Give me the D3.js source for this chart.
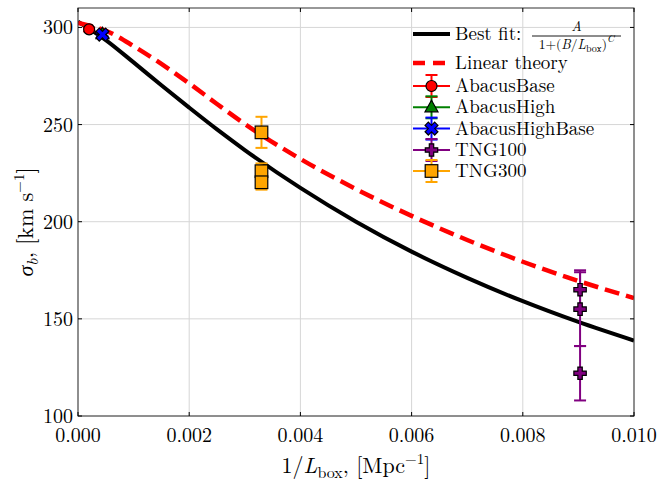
<!DOCTYPE html>
<html>
<head>
<meta charset="utf-8">
<script src="https://cdn.jsdelivr.net/npm/d3@7/dist/d3.min.js"></script>
<style>
  html, body { margin: 0; padding: 0; background: #fff; }
</style>
</head>
<body>
<svg id="chart" width="663" height="483"></svg>
<script>
// Axis ticks
const xTicks = [0, 0.002, 0.004, 0.006, 0.008, 0.010];
const yTicks = [100, 150, 200, 250, 300];

// Best fit curve sigma_b(1/L_box)
const fitX = [0, 0.0005, 0.001, 0.0015, 0.002, 0.0025, 0.003, 0.004, 0.005, 0.006, 0.007, 0.008, 0.009, 0.010];
const fitY = [303, 293.5, 282.0, 270.2, 258.7, 247.5, 236.9, 217.4, 200.0, 184.6, 171.1, 159.1, 148.4, 138.8];

// Linear theory prediction
const linX = [0, 0.0005, 0.001, 0.0015, 0.002, 0.0025, 0.003, 0.004, 0.005, 0.006, 0.007, 0.008, 0.009, 0.010];
const linY = [302.3, 298.3, 290.4, 281.2, 271.2, 260.6, 250.3, 232.3, 216.8, 203.0, 190.6, 179.4, 169.5, 160.7];

// Simulation measurements: 1/L_box, sigma_b, error
const abacusBaseX = [0.0002];
const abacusBaseY = [299.0];
const abacusBaseErr = [1.0];

const abacusHighX = [0.00044];
const abacusHighY = [296.5];
const abacusHighErr = [1.2];

const abacusHighBaseX = [0.00044];
const abacusHighBaseY = [296.3];
const abacusHighBaseErr = [1.0];

const tng100X = [0.00903, 0.00903, 0.00903];
const tng100Y = [165, 155, 122];
const tng100Err = [10, 19, 14];

const tng300X = [0.0033, 0.0033, 0.0033];
const tng300Y = [246, 226, 220.3];
const tng300Err = [8, 4, 3.8];

const W = 663, H = 483;
const margin = { left: 78, right: 29, top: 8, bottom: 67 };
const FONT = "Latin Modern Roman, CMU Serif, Liberation Serif, serif";
const svg = d3.select("#chart").attr("font-family", FONT);

const x = d3.scaleLinear().domain([0, 0.010]).range([margin.left, W - margin.right]);
const y = d3.scaleLinear().domain([100, 310]).range([H - margin.bottom, margin.top]);

const x0 = x.range()[0], x1 = x.range()[1];
const y0 = y.range()[0], y1 = y.range()[1];

// grid
const grid = svg.append("g").attr("stroke", "#d6d6d6").attr("stroke-width", 1);
xTicks.forEach(t => grid.append("line")
  .attr("x1", x(t)).attr("x2", x(t)).attr("y1", y0).attr("y2", y1));
yTicks.forEach(t => grid.append("line")
  .attr("x1", x0).attr("x2", x1).attr("y1", y(t)).attr("y2", y(t)));

const plot = svg.append("g");
plot.append("clipPath").attr("id", "clip").append("rect")
  .attr("x", x0).attr("y", y1).attr("width", x1 - x0).attr("height", y0 - y1);

const line = d3.line().x(d => x(d[0])).y(d => y(d[1])).curve(d3.curveMonotoneX);

plot.append("path")
  .datum(fitX.map((v, i) => [v, fitY[i]]))
  .attr("d", line).attr("fill", "none")
  .attr("stroke", "#000").attr("stroke-width", 4)
  .attr("clip-path", "url(#clip)");

plot.append("path")
  .datum(linX.map((v, i) => [v, linY[i]]))
  .attr("d", line).attr("fill", "none")
  .attr("stroke", "#ff0000").attr("stroke-width", 4.5)
  .attr("stroke-dasharray", "15,7")
  .attr("clip-path", "url(#clip)");

// marker shapes
function plusPath(h, t) {
  return `M${-t},${-h}L${t},${-h}L${t},${-t}L${h},${-t}L${h},${t}L${t},${t}L${t},${h}L${-t},${h}L${-t},${t}L${-h},${t}L${-h},${-t}L${-t},${-t}Z`;
}
function crossPath(h, t) {
  const pts = [[-t,-h],[t,-h],[t,-t],[h,-t],[h,t],[t,t],[t,h],[-t,h],[-t,t],[-h,t],[-h,-t],[-t,-t]];
  const c = Math.SQRT1_2;
  return "M" + pts.map(([a, b]) => `${(a - b) * c},${(a + b) * c}`).join("L") + "Z";
}
const markers = {
  circle: g => g.append("circle").attr("r", 5.5),
  triangle: g => g.append("path").attr("d", "M0,-7L6.5,4.5L-6.5,4.5Z"),
  cross: g => g.append("path").attr("d", crossPath(6.8, 2.3)),
  plus: g => g.append("path").attr("d", plusPath(6.2, 2.2)),
  square: g => g.append("rect").attr("x", -6.3).attr("y", -6.3).attr("width", 12.6).attr("height", 12.6)
};

const series = [
  { name: "AbacusBase", color: "#ff0000", marker: "circle", xs: abacusBaseX, ys: abacusBaseY, es: abacusBaseErr },
  { name: "AbacusHigh", color: "#008000", marker: "triangle", xs: abacusHighX, ys: abacusHighY, es: abacusHighErr },
  { name: "AbacusHighBase", color: "#0000ff", marker: "cross", xs: abacusHighBaseX, ys: abacusHighBaseY, es: abacusHighBaseErr },
  { name: "TNG100", color: "#800080", marker: "plus", xs: tng100X, ys: tng100Y, es: tng100Err },
  { name: "TNG300", color: "#ffa500", marker: "square", xs: tng300X, ys: tng300Y, es: tng300Err }
];

const cap = 6;
function errorBar(g, cx, yTop, yBot, color) {
  g.append("line").attr("x1", cx).attr("x2", cx).attr("y1", yTop).attr("y2", yBot)
    .attr("stroke", color).attr("stroke-width", 2);
  [yTop, yBot].forEach(yy => g.append("line")
    .attr("x1", cx - cap).attr("x2", cx + cap).attr("y1", yy).attr("y2", yy)
    .attr("stroke", color).attr("stroke-width", 2));
}
function marker(g, cx, cy, s) {
  const m = g.append("g").attr("transform", `translate(${cx},${cy})`);
  markers[s.marker](m).attr("fill", s.color).attr("stroke", "#000").attr("stroke-width", 1.2);
}

series.forEach(s => {
  const g = plot.append("g");
  s.xs.forEach((xv, i) => errorBar(g, x(xv), y(s.ys[i] + s.es[i]), y(s.ys[i] - s.es[i]), s.color));
  s.xs.forEach((xv, i) => marker(g, x(xv), y(s.ys[i]), s));
});

// frame
svg.append("rect").attr("x", x0).attr("y", y1).attr("width", x1 - x0).attr("height", y0 - y1)
  .attr("fill", "none").attr("stroke", "#333").attr("stroke-width", 1);

// ticks (inward, all four sides)
const tk = svg.append("g").attr("stroke", "#000").attr("stroke-width", 1);
const tl = 4;
xTicks.forEach(t => {
  tk.append("line").attr("x1", x(t)).attr("x2", x(t)).attr("y1", y0).attr("y2", y0 - tl);
  tk.append("line").attr("x1", x(t)).attr("x2", x(t)).attr("y1", y1).attr("y2", y1 + tl);
});
yTicks.forEach(t => {
  tk.append("line").attr("x1", x0).attr("x2", x0 + tl).attr("y1", y(t)).attr("y2", y(t));
  tk.append("line").attr("x1", x1).attr("x2", x1 - tl).attr("y1", y(t)).attr("y2", y(t));
});

// tick labels
const fs = 20;
svg.append("g").selectAll("text").data(xTicks).join("text")
  .attr("x", d => x(d)).attr("y", y0 + 26).attr("text-anchor", "middle")
  .attr("font-size", fs).text(d => d3.format(".3f")(d));
svg.append("g").selectAll("text").data(yTicks).join("text")
  .attr("x", x0 - 5).attr("y", d => y(d) + 7).attr("text-anchor", "end")
  .attr("font-size", fs).text(d => d);

// axis labels
const xl = svg.append("text").attr("x", (x0 + x1) / 2).attr("y", 473)
  .attr("text-anchor", "middle").attr("font-size", 22);
xl.append("tspan").text("1/");
xl.append("tspan").attr("font-style", "italic").text("L");
xl.append("tspan").attr("font-size", 16).attr("dy", 5).text("box");
xl.append("tspan").attr("dy", -5).text(", [Mpc");
xl.append("tspan").attr("font-size", 15).attr("dy", -9).text("−1");
xl.append("tspan").attr("dy", 9).text("]");

const yl = svg.append("text")
  .attr("transform", `translate(33,222) rotate(-90)`)
  .attr("text-anchor", "middle").attr("font-size", 22);
yl.append("tspan").attr("font-style", "italic").text("σ");
yl.append("tspan").attr("font-style", "italic").attr("font-size", 16).attr("dy", 5).text("b");
yl.append("tspan").attr("dy", -5).text(", [km s");
yl.append("tspan").attr("font-size", 15).attr("dy", -9).text("−1");
yl.append("tspan").attr("dy", 9).text("]");

// legend
const lg = svg.append("g");
const hx0 = 413, hx1 = 450, hc = (hx0 + hx1) / 2, tx = 455;
const lfs = 19;

// best fit entry
lg.append("line").attr("x1", hx0).attr("x2", hx1).attr("y1", 34).attr("y2", 34)
  .attr("stroke", "#000").attr("stroke-width", 4);
lg.append("text").attr("x", tx).attr("y", 40).attr("font-size", lfs).text("Best fit:");
lg.append("line").attr("x1", 532).attr("x2", 621).attr("y1", 36).attr("y2", 36)
  .attr("stroke", "#000").attr("stroke-width", 0.9);
lg.append("text").attr("x", 576.5).attr("y", 31).attr("text-anchor", "middle")
  .attr("font-size", 14).attr("font-style", "italic").text("A");
const den = lg.append("text").attr("x", 576.5).attr("y", 49).attr("text-anchor", "middle").attr("font-size", 13.5);
den.append("tspan").text("1+(");
den.append("tspan").attr("font-style", "italic").text("B");
den.append("tspan").text("/");
den.append("tspan").attr("font-style", "italic").text("L");
den.append("tspan").attr("font-size", 10).attr("dy", 3).text("box");
den.append("tspan").attr("dy", -3).text(")");
den.append("tspan").attr("font-style", "italic").attr("font-size", 10).attr("dy", -7).text("C");

// linear theory entry
lg.append("line").attr("x1", hx0).attr("x2", hx1).attr("y1", 63).attr("y2", 63)
  .attr("stroke", "#ff0000").attr("stroke-width", 4.5).attr("stroke-dasharray", "12,8");
lg.append("text").attr("x", tx).attr("y", 69).attr("font-size", lfs).text("Linear theory");

const rowY = [86, 107.3, 128.6, 150, 171];
series.forEach((s, i) => {
  const cy = rowY[i];
  const g = lg.append("g");
  g.append("line").attr("x1", hx0).attr("x2", hx1).attr("y1", cy).attr("y2", cy)
    .attr("stroke", s.color).attr("stroke-width", 2);
  errorBar(g, hc, cy - 11, cy + 11, s.color);
  marker(g, hc, cy, s);
  g.append("text").attr("x", tx).attr("y", cy + 6).attr("font-size", lfs).text(s.name);
});
</script>
</body>
</html>
